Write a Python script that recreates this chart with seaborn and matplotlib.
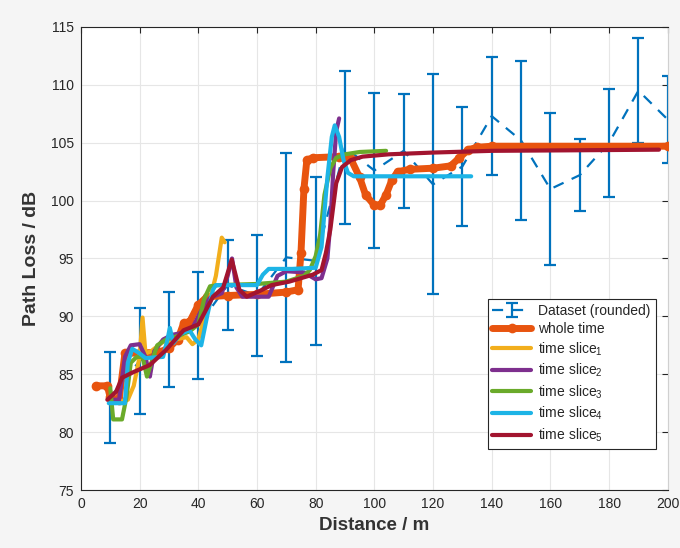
import numpy as np
import pandas as pd
import matplotlib
matplotlib.use("Agg")
import matplotlib.pyplot as plt
import seaborn as sns

# ---- data ----
ds_x = [10, 20, 30, 40, 50, 60, 70, 80, 90, 100, 110, 120, 130, 140, 150, 160, 170, 180, 190, 200]
ds_y = [83.0, 86.15, 88.0, 89.2, 92.7, 91.8, 95.1, 94.8, 104.6, 102.6, 104.3, 101.4, 102.95, 107.3,
        105.2, 101.0, 102.2, 105.0, 109.5, 107.0]
ds_err = [3.9, 4.55, 4.1, 4.6, 3.9, 5.25, 9.0, 7.25, 6.6, 6.7, 4.9, 9.5, 5.15, 5.1, 6.9, 6.55, 3.1,
          4.65, 4.55, 3.75]

whole_x = [5, 9, 10, 13, 15, 27, 30, 33, 35, 37, 40, 43, 50, 60, 70, 74, 75, 76, 77, 79, 88, 92, 95,
           97, 100, 102, 104, 106, 108, 112, 120, 126, 129, 132, 135, 140, 200]
whole_y = [84.0, 84.0, 83.0, 82.8, 86.8, 86.9, 87.3, 88.0, 89.4, 89.5, 91.0, 91.7, 91.8, 91.9, 92.1,
           92.3, 95.5, 101.0, 103.5, 103.7, 103.8, 103.6, 102.0, 100.5, 99.6, 99.6, 100.5, 101.8,
           102.5, 102.7, 102.8, 103.0, 103.7, 104.4, 104.6, 104.7, 104.7]

s1_x = [10, 14, 16, 18, 20, 21, 22, 24, 28, 32, 36, 38, 40, 42, 44, 46, 48, 49]
s1_y = [82.5, 82.7, 82.8, 84.0, 86.5, 89.9, 86.8, 87.0, 87.8, 88.0, 88.2, 87.6, 88.0, 89.8, 91.5,
        93.5, 96.8, 96.4]

s2_x = [10, 13, 15, 17, 20, 22, 23.5, 25, 28, 31, 35, 38, 41, 44, 48, 50, 51.5, 53, 55, 64, 67, 70,
        76, 80, 82, 84, 85, 86, 87, 88]
s2_y = [82.8, 82.8, 86.5, 87.5, 87.6, 86.5, 84.8, 87.0, 88.0, 88.4, 88.6, 89.0, 90.5, 91.6, 92.0,
        93.5, 95.0, 92.5, 91.7, 91.7, 93.5, 93.9, 93.8, 93.2, 93.3, 95.0, 98.0, 102.5, 106.0, 107.1]

s3_x = [10, 11, 14, 15.5, 17, 19, 21, 22.5, 24, 26, 29, 33, 37, 40, 42, 44, 47, 60, 70, 76, 78, 80,
        81.5, 83, 85, 87, 90, 95, 104]
s3_y = [83.8, 81.1, 81.1, 83.0, 86.0, 86.5, 86.5, 84.8, 86.0, 87.5, 88.0, 88.3, 88.7, 89.3, 91.5,
        92.6, 92.7, 92.8, 93.0, 93.5, 94.0, 95.2, 97.0, 100.5, 102.8, 103.7, 104.0, 104.2, 104.3]

s4_x = [9.5, 12, 15, 16, 17.5, 20, 22, 28, 29.5, 30.3, 31.5, 34, 37, 39, 41, 43, 45, 46, 60, 62, 64,
        72, 80, 82, 84, 85.5, 86.5, 88, 89.5, 91, 93, 100, 133]
s4_y = [82.5, 82.5, 82.5, 86.0, 87.2, 86.8, 86.4, 86.5, 88.0, 89.0, 87.7, 88.5, 88.8, 88.0, 87.5,
        90.0, 92.3, 92.7, 92.7, 93.6, 94.1, 94.1, 94.2, 96.0, 102.0, 105.5, 106.5, 105.5, 103.5,
        102.4, 102.1, 102.1, 102.1]

s5_x = [9, 12, 14, 18, 23.5, 29, 35, 40, 45, 48.5, 51.4, 54, 56.5, 61, 65, 71, 79, 82, 83.5, 85, 87,
        89, 92, 96, 105, 120, 140, 170, 197]
s5_y = [82.8, 83.5, 84.7, 85.2, 85.8, 87.1, 88.8, 89.3, 91.7, 92.5, 94.9, 92.3, 91.7, 92.2, 92.7,
        93.0, 93.6, 94.0, 95.5, 97.5, 101.5, 102.9, 103.5, 103.8, 104.0, 104.15, 104.3, 104.35, 104.4]

x_ticks = [0, 20, 40, 60, 80, 100, 120, 140, 160, 180, 200]
y_ticks = [75, 80, 85, 90, 95, 100, 105, 110, 115]

# ---- style ----
sns.set_theme(style="whitegrid")
plt.rcParams['font.family'] = ['Liberation Sans', 'DejaVu Sans']
plt.rcParams['mathtext.fontset'] = 'custom'
plt.rcParams['mathtext.rm'] = 'Liberation Sans'
plt.rcParams['mathtext.it'] = 'Liberation Sans'

fig = plt.figure(figsize=(6.8, 5.48), dpi=100, facecolor='#f5f5f5')
ax = fig.add_axes([0.119, 0.1058, 0.863, 0.845])
ax.set_facecolor('white')

c_ds = '#0072BD'
c_whole = '#E8540F'
c_s = ['#F2AE1C', '#7E2F8E', '#6AAA2A', '#1DB4E6', '#A2142F']

eb = ax.errorbar(ds_x, ds_y, yerr=ds_err, color=c_ds, ls=(0, (5, 4)), lw=1.6,
                 capsize=4, capthick=1.6, elinewidth=1.6, label='Dataset (rounded)', zorder=2)

dfw = pd.DataFrame({'x': whole_x, 'y': whole_y})
sns.lineplot(data=dfw, x='x', y='y', ax=ax, color=c_whole, lw=5, marker='o', markersize=7,
             markeredgewidth=0, sort=False, label='whole time', zorder=3)

slices = [(s1_x, s1_y), (s2_x, s2_y), (s3_x, s3_y), (s4_x, s4_y), (s5_x, s5_y)]
for i, (sx, sy) in enumerate(slices):
    df = pd.DataFrame({'x': sx, 'y': sy})
    sns.lineplot(data=df, x='x', y='y', ax=ax, color=c_s[i], lw=3, sort=False,
                 label=f'time slice$_{i+1}$', zorder=4 + i)

ax.set_xlim(0, 200)
ax.set_ylim(75, 115)
ax.set_xticks(x_ticks)
ax.set_yticks(y_ticks)
ax.tick_params(axis='both', which='both', direction='in', length=4, width=0.8, colors='#262626',
               labelsize=10, top=True, right=True, pad=5)
ax.tick_params(axis='both', labelcolor='#262626')
ax.grid(True, color='#e6e6e6', lw=0.8)
for sp in ax.spines.values():
    sp.set_visible(True)
    sp.set_color('#262626')
    sp.set_linewidth(0.8)
ax.spines['right'].set_color('#d0d0d0')

ax.set_xlabel('Distance / m', fontsize=13.5, fontweight='bold', color='#333333', labelpad=4)
ax.set_ylabel('Path Loss / dB', fontsize=14, fontweight='bold', color='#333333', labelpad=8)

handles, labels = ax.get_legend_handles_labels()
order = [labels.index('Dataset (rounded)')] + [i for i, l in enumerate(labels) if l != 'Dataset (rounded)']
handles = [handles[i] for i in order]
labels = [labels[i] for i in order]
if ax.get_legend() is not None:
    ax.get_legend().remove()
leg = ax.legend(handles, labels, loc='upper left', bbox_to_anchor=(0.693, 0.4125), fontsize=10,
                frameon=True, fancybox=False, framealpha=1, edgecolor='#262626',
                handlelength=2.8, borderpad=0.35, labelspacing=0.3, handletextpad=0.5,
                borderaxespad=0)
leg.get_frame().set_linewidth(0.8)
leg.set_zorder(20)

fig.savefig('out.png', dpi=100, facecolor=fig.get_facecolor())
